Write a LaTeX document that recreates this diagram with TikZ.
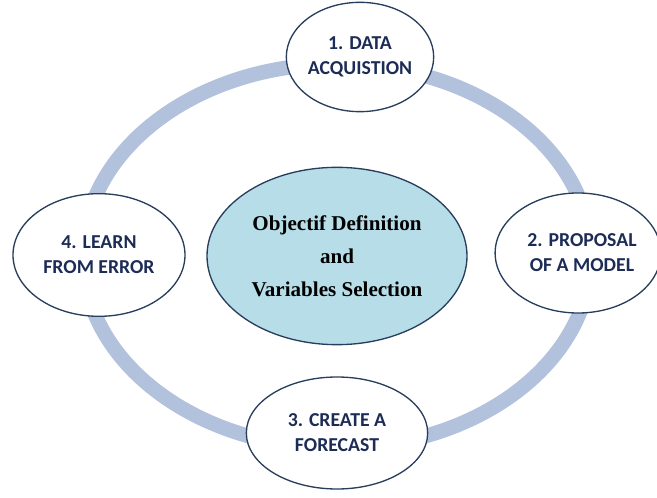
\documentclass[tikz,border=0pt]{standalone}
\usepackage{fontspec}
\setmainfont{Liberation Serif}
\newfontfamily\stagefont{Carlito}
\usepackage{tikz}
\usetikzlibrary{shapes.geometric}
\definecolor{ringblue}{RGB}{178,194,221}
\definecolor{edgenavy}{RGB}{40,62,92}
\definecolor{textnavy}{RGB}{28,44,86}
\definecolor{corefill}{RGB}{183,221,232}

\begin{document}
\begin{tikzpicture}[x=0.75pt, y=-0.75pt,
  ring/.style={draw=ringblue, line width=11pt},
  stage/.style={ellipse, draw=edgenavy, line width=1pt, fill=white,
                inner sep=0pt, align=center, text=textnavy,
                font=\stagefont\bfseries\fontsize{14.8}{18.6}\selectfont},
  core/.style={ellipse, draw=edgenavy, line width=1pt, fill=corefill,
               inner sep=0pt, align=center, text=black,
               font=\bfseries\fontsize{15.8}{24.8}\selectfont,
               minimum width=195pt, minimum height=133pt}
]
\useasboundingbox (0,0) rectangle (657,498);
% the cycle behind the four steps
\draw[ring] (337,256) ellipse [x radius=254, y radius=192];
\node[core] (goal) at (337,256) {Objectif Definition\\and\\Variables Selection};
\node[stage, minimum width=104pt, minimum height=82pt] (acq) at (360,57)
  {1. DATA\\ACQUISTION};
\node[stage, minimum width=118pt, minimum height=90pt] (model) at (578,253)
  {\hspace*{6pt}2. PROPOSAL\\\hspace*{6pt}OF A MODEL};
\node[stage, minimum width=136pt, minimum height=84pt] (forecast) at (337,433)
  {3. CREATE A\\FORECAST};
\node[stage, minimum width=129pt, minimum height=92pt] (learn) at (99,255)
  {4. LEARN\\FROM ERROR};
\end{tikzpicture}
\end{document}
